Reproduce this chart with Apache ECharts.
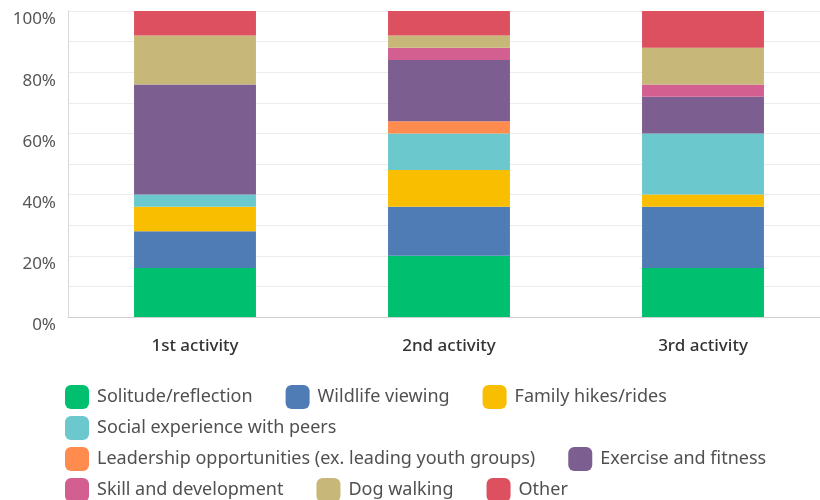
<!DOCTYPE html>
<html>
<head>
<meta charset="utf-8">
<script src="https://cdn.jsdelivr.net/npm/echarts@6/dist/echarts.min.js"></script>
<style>
  html, body { margin: 0; padding: 0; background: #fff; }
  #chart { width: 820px; height: 500px; }
</style>
</head>
<body>
<div id="chart"></div>
<script>
var categories = ['1st activity', '2nd activity', '3rd activity'];

var seriesNames = [
    'Solitude/reflection',
    'Wildlife viewing',
    'Family hikes/rides',
    'Social experience with peers',
    'Leadership opportunities (ex. leading youth groups)',
    'Exercise and fitness',
    'Skill and development',
    'Dog walking',
    'Other'
];

var seriesColors = ['#00bf6f', '#507cb6', '#f9be00', '#6bc8cd', '#ff8b4f', '#7d5e90', '#d25f90', '#c7b879', '#dc5060'];

// percent per activity, bottom to top
var solitude   = [16, 20, 16];
var wildlife   = [12, 16, 20];
var family     = [8, 12, 4];
var social     = [4, 12, 20];
var leadership = [0, 4, 0];
var exercise   = [36, 20, 12];
var skill      = [0, 4, 4];
var dogWalking = [16, 4, 12];
var other      = [8, 8, 12];

var seriesValues = [solitude, wildlife, family, social, leadership, exercise, skill, dogWalking, other];

// which legend entries sit on each line
var legendRows = [
    [0, 1, 2],
    [3],
    [4, 5],
    [6, 7, 8]
];

var myChart = echarts.init(document.getElementById('chart'));

var series = [];
for (var i = 0; i < seriesNames.length; i++) {
    series.push({
        name: seriesNames[i],
        type: 'bar',
        stack: 'total',
        barWidth: '48%',
        itemStyle: { color: seriesColors[i] },
        data: seriesValues[i]
    });
}

var legends = [];
for (var r = 0; r < legendRows.length; r++) {
    var names = [];
    for (var k = 0; k < legendRows[r].length; k++) {
        names.push(seriesNames[legendRows[r][k]]);
    }
    legends.push({
        data: names,
        left: 65,
        top: 385 + r * 31,
        padding: 0,
        orient: 'horizontal',
        icon: 'roundRect',
        itemWidth: 24,
        itemHeight: 24,
        itemGap: 33,
        selectedMode: false,
        textStyle: {
            fontFamily: 'Noto Sans',
            fontSize: 18,
            color: '#505050',
            padding: [0, 0, 0, 3]
        }
    });
}

var option = {
    animation: false,
    grid: {
        left: 68,
        width: 762,
        top: 11,
        bottom: 183,
        containLabel: false,
        outerBoundsMode: 'none'
    },
    legend: legends,
    xAxis: {
        type: 'category',
        data: categories,
        axisLine: { lineStyle: { color: '#d0d0d0', width: 1 } },
        axisTick: { show: false },
        axisLabel: {
            margin: 21,
            fontFamily: 'Noto Sans',
            fontSize: 17,
            fontWeight: 500,
            color: '#333'
        }
    },
    yAxis: {
        type: 'value',
        min: 0,
        max: 100,
        interval: 10,
        axisLine: { show: true, lineStyle: { color: '#d8d8d8' } },
        axisTick: { show: false },
        splitLine: { lineStyle: { color: '#ececec', width: 1 } },
        axisLabel: {
            margin: 12,
            verticalAlign: 'top',
            fontFamily: 'Noto Sans',
            fontSize: 17,
            color: '#555',
            formatter: function (v) {
                return v % 20 === 0 ? v + '%' : '';
            }
        }
    },
    series: series
};

myChart.setOption(option);
</script>
</body>
</html>
